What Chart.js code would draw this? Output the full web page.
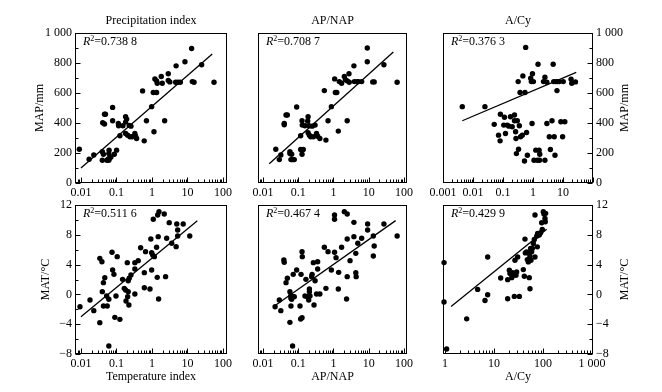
<!DOCTYPE html>
<html><head><meta charset="utf-8">
<script src="https://cdn.jsdelivr.net/npm/chart.js@4/dist/chart.umd.min.js"></script>
<style>
html,body{margin:0;padding:0;background:#fff;}
#wrap{position:relative;width:662px;height:392px;overflow:hidden;background:#fff;}
#wrap canvas{position:absolute;left:0;top:0;}
</style></head><body><div id="wrap"></div>
<script>
// ---------- data ----------
const precipIndex = [0.009,0.017,0.023,0.041,0.046,0.049,0.046,0.040,0.043,0.040,0.054,0.059,0.061,0.065,0.070,0.061,0.062,0.078,0.078,0.087,0.101,0.113,0.115,0.125,0.152,0.181,0.181,0.194,0.181,0.207,0.229,0.240,0.256,0.276,0.33,0.346,0.37,0.545,0.605,0.70,0.98,1.14,1.09,1.35,1.21,1.35,1.41,1.83,1.95,2.28,2.88,2.88,3.19,4.79,4.66,5.40,6.30,8.5,13.1,13.7,15.3,25.1,56];
const precipMAP = [225,158,187,402,458,458,393,208,192,152,152,161,152,167,174,196,219,504,415,192,219,397,382,315,382,406,442,426,330,319,384,308,379,308,330,312,297,614,281,415,509,342,603,603,694,681,665,710,665,415,728,683,674,781,672,672,672,808,897,676,672,788,672];
const precipLineX = [0.01, 50];
const precipLineY = [100, 860];

const apnapTop = [0.023,0.032,0.029,0.040,0.040,0.045,0.049,0.058,0.058,0.062,0.066,0.072,0.077,0.065,0.090,0.117,0.117,0.128,0.139,0.130,0.128,0.155,0.190,0.185,0.202,0.190,0.207,0.226,0.247,0.268,0.30,0.33,0.355,0.41,0.55,0.61,0.70,0.87,1.08,1.13,1.24,1.37,1.46,1.70,2.03,2.18,2.45,2.45,2.75,2.8,3.8,3.9,4.6,5.1,6.3,9.1,9.1,13.0,14.3,27,64];
const apnapMAP = [225,187,156,397,388,453,453,208,196,156,156,156,156,192,507,315,223,192,223,386,415,382,442,413,382,335,319,308,379,308,386,330,312,297,616,286,415,509,694,603,603,346,676,665,710,688,681,415,728,672,781,676,676,676,676,900,808,674,674,788,672];
const apnapTopLineX = [0.015, 50];
const apnapTopLineY = [129, 873];

const acyTop = [0.0044,0.025,0.051,0.071,0.082,0.080,0.112,0.106,0.121,0.138,0.157,0.178,0.203,0.242,0.242,0.263,0.27,0.30,0.28,0.33,0.32,0.35,0.37,0.385,0.44,0.46,0.54,0.57,0.61,0.65,0.52,0.84,0.88,0.96,0.93,1.03,1.08,1.24,1.40,1.47,1.60,1.68,1.65,2.24,2.5,2.5,2.9,2.9,3.5,3.8,4.3,4.7,4.9,5.1,5.4,5.8,6.3,6.6,7.5,8.5,9.7,10.2,11.5,18.6,19.6,26];
const acyMAP = [509,509,391,319,458,281,438,386,330,386,379,442,375,453,415,342,297,415,196,225,676,382,603,308,319,714,603,904,337,185,147,699,676,728,397,676,152,219,152,792,219,192,152,676,705,152,672,397,308,223,415,792,676,308,185,676,616,676,676,408,308,676,408,692,665,674];
const acyTopLineX = [0.0044, 27.6];
const acyTopLineY = [415, 737];

const tempIndex = [0.0094,0.018,0.023,0.034,0.034,0.039,0.040,0.043,0.047,0.043,0.053,0.055,0.061,0.061,0.075,0.078,0.085,0.090,0.097,0.105,0.125,0.149,0.166,0.181,0.186,0.202,0.207,0.215,0.215,0.224,0.229,0.256,0.33,0.33,0.33,0.41,0.48,0.61,0.61,0.66,0.88,0.93,0.98,0.98,1.05,1.09,1.17,1.35,1.41,1.50,1.45,1.58,1.54,2.22,2.42,2.60,3.07,3.6,4.8,5.0,5.3,5.3,7.6,11.6];
const tempMAT = [-1.65,-0.75,-2.18,-3.79,4.84,4.39,0.37,1.58,2.25,-1.56,-0.21,-1.56,-0.66,-6.93,5.65,3.28,2.69,-3.08,-0.21,5.07,-3.35,2.02,0.81,0.59,-0.88,4.26,-0.30,1.84,0.37,-1.42,2.16,2.60,4.26,0.05,3.41,4.53,6.27,0.90,2.92,5.74,0.72,7.44,3.28,5.60,5.29,10.08,5.07,6.32,2.29,7.75,10.66,11.11,-0.62,10.79,2.38,7.53,9.63,6.86,6.41,9.45,8.64,7.84,9.45,7.84];
const tempLineX = [0.01, 19];
const tempLineY = [-3.0, 9.9];

const apnapBot = [0.022,0.029,0.032,0.039,0.040,0.045,0.049,0.058,0.061,0.062,0.062,0.058,0.069,0.065,0.072,0.077,0.072,0.090,0.112,0.117,0.128,0.120,0.128,0.130,0.155,0.165,0.180,0.198,0.207,0.207,0.215,0.24,0.247,0.268,0.28,0.30,0.33,0.355,0.355,0.41,0.55,0.61,0.70,0.87,1.07,1.07,1.07,1.18,1.40,1.37,1.70,2.03,2.45,2.45,2.45,2.35,2.95,3.8,3.8,4.3,4.3,4.4,4.9,6.3,9.3,9.3,13.5,14.3,13.5,27,64];
const apnapMAT = [-1.65,-0.75,-2.18,4.62,4.30,1.58,2.16,0.37,-0.21,-1.56,-0.53,-3.75,-6.93,-0.66,-0.30,-0.30,2.69,3.28,-1.56,-3.30,-3.12,2.69,5.74,5.07,-0.21,2.02,-0.30,-0.75,0.72,0.37,-0.21,2.38,2.69,4.26,-1.42,1.84,0.05,4.39,3.41,0.05,6.32,0.81,5.74,3.28,10.66,10.08,5.65,4.93,2.96,0.72,6.32,11.11,10.79,7.44,2.38,-0.62,4.53,9.67,7.75,5.51,2.92,2.38,6.86,7.53,9.45,8.64,7.84,6.50,5.16,9.45,7.84];
const apnapBotLineX = [0.0197, 58];
const apnapBotLineY = [-1.65, 9.9];

const acyBot = [0.955,0.955,1.08,2.77,4.64,6.55,7.43,7.43,13.7,19.0,19.0,20.6,21.2,23.0,24.0,24.8,26.0,26.8,28.1,29.0,30.4,32.9,39.7,41.6,42.9,43.6,46.4,47.9,50.2,50.2,52.6,54.3,54.3,56.0,56.9,58.7,60.6,63.5,66.5,68.7,68.7,74.3,76.6,77.8,84.1,89.5,96.8,94.0,101.6,104.8,109.9,111.6,113.3];
const acyMAT = [4.27,-1.03,-7.33,-3.28,0.67,-0.81,-0.04,5.03,2.20,1.98,-0.58,3.24,2.79,2.25,2.92,2.56,-0.27,4.58,2.56,3.01,5.03,-0.27,3.33,2.43,7.42,5.57,5.71,4.67,4.36,5.57,2.25,5.12,0.76,6.16,4.58,5.71,6.16,6.83,7.37,5.03,10.65,7.82,6.38,8.18,7.96,8.27,8.72,9.62,11.10,10.79,10.20,9.75,10.88];
const acyBotLineX = [1.33, 119];
const acyBotLineY = [-1.62, 8.76];

// tick values / labels
const decTicks = [0.01, 0.1, 1, 10, 100];
const decLabels = ['0.01', '0.1', '1', '10', '100'];
const acyTopTicks = [0.001, 0.01, 0.1, 1, 10];
const acyTopLabels = ['0.001', '0.01', '0.1', '1', '10'];
const acyBotTicks = [1, 10, 100, 1000];
const acyBotLabels = ['1', '10', '100', '1 000'];
const mapTicks = [0, 200, 400, 600, 800, 1000];
const mapLabels = ['0', '200', '400', '600', '800', '1 000'];
const matTicks = [-8, -4, 0, 4, 8, 12];
const matLabels = ['\u22128', '\u22124', '0', '4', '8', '12'];

const r2Values = ['0.738 8', '0.708 7', '0.376 3', '0.511 6', '0.467 4', '0.429 9'];
const topTitles = ['Precipitation index', 'AP/NAP', 'A/Cy'];
const bottomTitles = ['Temperature index', 'AP/NAP', 'A/Cy'];

// ---------- drawing ----------
const FONT = "'Liberation Serif', 'Times New Roman', serif";
Chart.defaults.font.family = FONT;
Chart.defaults.font.size = 12;
Chart.defaults.color = '#000';

const W = 662, H = 392;
const Y_AXIS_W = 36, X_AXIS_H = 18;

const deco = {
  id: 'panelDeco',
  afterDraw(chart, args, o) {
    const ctx = chart.ctx, a = chart.chartArea, xs = chart.scales.x, ys = chart.scales.y;
    const L = Math.round(a.left) + 0.5, R = Math.round(a.right) - 0.5;
    const T = Math.round(a.top) + 0.5, B = Math.round(a.bottom) - 0.5;
    ctx.save();
    ctx.strokeStyle = '#000';
    ctx.lineWidth = 1;
    ctx.strokeRect(L, T, R - L, B - T);
    ctx.beginPath();
    const e0 = Math.floor(Math.log10(xs.min)), e1 = Math.ceil(Math.log10(xs.max));
    for (let e = e0; e <= e1; e++) {
      for (let k = 1; k <= 9; k++) {
        const v = k * Math.pow(10, e);
        if (v < xs.min * 0.999 || v > xs.max * 1.001) continue;
        const px = Math.round(xs.getPixelForValue(v)) + 0.5;
        const len = k === 1 ? 5 : 3;
        ctx.moveTo(px, B); ctx.lineTo(px, B - len);
      }
    }
    if (o.ySide) {
      const n = Math.round((ys.max - ys.min) / o.yMinor);
      for (let i = 0; i <= n; i++) {
        const v = ys.min + i * o.yMinor;
        const py = Math.round(ys.getPixelForValue(v)) + 0.5;
        const len = (i % 2 === 0) ? 5 : 3;
        if (o.ySide === 'left') { ctx.moveTo(L, py); ctx.lineTo(L + len, py); }
        else { ctx.moveTo(R, py); ctx.lineTo(R - len, py); }
      }
    }
    ctx.stroke();

    ctx.fillStyle = '#000';
    ctx.textBaseline = 'middle';
    const cx = (a.left + a.right) / 2, cy = (a.top + a.bottom) / 2;
    ctx.font = '12px ' + FONT;
    if (o.title) { ctx.textAlign = 'center'; ctx.fillText(o.title, cx, a.top - 12); }
    if (o.xTitle) { ctx.textAlign = 'center'; ctx.fillText(o.xTitle, cx, a.bottom + 23); }
    if (o.yTitle) {
      ctx.save();
      ctx.translate(o.ySide === 'left' ? a.left - o.yTitleOff : a.right + o.yTitleOff, cy);
      ctx.rotate(-Math.PI / 2);
      ctx.textAlign = 'center';
      ctx.fillText(o.yTitle, 0, 0);
      ctx.restore();
    }
    let x = a.left + 8; const y = a.top + 9;
    ctx.textAlign = 'left';
    ctx.font = 'italic 12px ' + FONT;
    ctx.fillText('R', x, y); x += ctx.measureText('R').width;
    ctx.font = '8px ' + FONT;
    ctx.fillText('2', x, y - 3); x += ctx.measureText('2').width;
    ctx.font = '12px ' + FONT;
    ctx.fillText('=' + o.r2, x, y);
    ctx.restore();
  }
};

function pts(xa, ya) { return xa.map((v, i) => ({ x: v, y: ya[i] })); }

function makePanel(p) {
  const cv = document.createElement('canvas');
  cv.width = W; cv.height = H;
  cv.style.width = W + 'px'; cv.style.height = H + 'px';
  document.getElementById('wrap').appendChild(cv);
  const yL = p.ySide === 'left' ? Y_AXIS_W : 0;
  const yR = p.ySide === 'right' ? Y_AXIS_W : 0;
  new Chart(cv, {
    type: 'scatter',
    data: {
      datasets: [
        { data: pts(p.xv, p.yv), pointRadius: 2.7, pointHoverRadius: 2.7, backgroundColor: '#000', borderWidth: 0, clip: false },
        { data: pts(p.lx, p.ly), showLine: true, borderColor: '#000', borderWidth: 1.3, pointRadius: 0, fill: false, clip: false }
      ]
    },
    options: {
      responsive: false, animation: false, devicePixelRatio: 1,
      layout: { padding: { left: p.box[0] - yL, top: p.box[1], right: W - p.box[2] - yR, bottom: H - p.box[3] - X_AXIS_H } },
      plugins: {
        legend: { display: false }, tooltip: { enabled: false }, title: { display: false },
        panelDeco: { title: p.title, xTitle: p.xTitle, yTitle: p.yTitle, yTitleOff: p.yTitleOff, ySide: p.ySide, yMinor: p.yMinor, r2: p.r2 }
      },
      scales: {
        x: {
          type: 'logarithmic', position: 'bottom', min: p.xmin, max: p.xmax,
          afterBuildTicks: s => { s.ticks = p.xt.map(v => ({ value: v })); },
          afterFit: s => { s.height = X_AXIS_H; },
          ticks: { callback: (v, i) => p.xl[i], padding: 3, autoSkip: false, maxRotation: 0, minRotation: 0, font: { size: 12, family: FONT }, color: '#000' },
          grid: { display: false, drawTicks: false }, border: { display: false }
        },
        y: {
          type: 'linear', display: !!p.ySide, position: p.ySide || 'left', min: p.ymin, max: p.ymax,
          afterBuildTicks: s => { s.ticks = p.yt.map(v => ({ value: v })); },
          afterFit: s => { s.width = p.ySide ? Y_AXIS_W : 0; },
          ticks: { callback: (v, i) => p.yl[i], padding: 3, autoSkip: false, font: { size: 12, family: FONT }, color: '#000' },
          grid: { display: false, drawTicks: false }, border: { display: false }
        }
      }
    },
    plugins: [deco]
  });
}

const topBox = [33, 183], botBox = [205, 354];
const colX = [[75, 227], [258, 407], [443, 593]];

makePanel({ box: [colX[0][0], topBox[0], colX[0][1], topBox[1]], xv: precipIndex, yv: precipMAP, lx: precipLineX, ly: precipLineY,
  xmin: 0.0068, xmax: 130, xt: decTicks, xl: decLabels, ymin: 0, ymax: 1000, yt: mapTicks, yl: mapLabels, yMinor: 100,
  ySide: 'left', yTitle: 'MAP/mm', yTitleOff: 35, title: topTitles[0], r2: r2Values[0] });
makePanel({ box: [colX[1][0], topBox[0], colX[1][1], topBox[1]], xv: apnapTop, yv: apnapMAP, lx: apnapTopLineX, ly: apnapTopLineY,
  xmin: 0.0072, xmax: 122, xt: decTicks, xl: decLabels, ymin: 0, ymax: 1000, yt: mapTicks, yl: mapLabels, yMinor: 100,
  ySide: null, title: topTitles[1], r2: r2Values[1] });
makePanel({ box: [colX[2][0], topBox[0], colX[2][1], topBox[1]], xv: acyTop, yv: acyMAP, lx: acyTopLineX, ly: acyTopLineY,
  xmin: 0.001, xmax: 100, xt: acyTopTicks, xl: acyTopLabels, ymin: 0, ymax: 1000, yt: mapTicks, yl: mapLabels, yMinor: 100,
  ySide: 'right', yTitle: 'MAP/mm', yTitleOff: 32, title: topTitles[2], r2: r2Values[2] });
makePanel({ box: [colX[0][0], botBox[0], colX[0][1], botBox[1]], xv: tempIndex, yv: tempMAT, lx: tempLineX, ly: tempLineY,
  xmin: 0.0068, xmax: 130, xt: decTicks, xl: decLabels, ymin: -8, ymax: 12, yt: matTicks, yl: matLabels, yMinor: 2,
  ySide: 'left', yTitle: 'MAT/\u00B0C', yTitleOff: 29, xTitle: bottomTitles[0], r2: r2Values[3] });
makePanel({ box: [colX[1][0], botBox[0], colX[1][1], botBox[1]], xv: apnapBot, yv: apnapMAT, lx: apnapBotLineX, ly: apnapBotLineY,
  xmin: 0.0072, xmax: 122, xt: decTicks, xl: decLabels, ymin: -8, ymax: 12, yt: matTicks, yl: matLabels, yMinor: 2,
  ySide: null, xTitle: bottomTitles[1], r2: r2Values[4] });
makePanel({ box: [colX[2][0], botBox[0], colX[2][1], botBox[1]], xv: acyBot, yv: acyMAT, lx: acyBotLineX, ly: acyBotLineY,
  xmin: 0.91, xmax: 1050, xt: acyBotTicks, xl: acyBotLabels, ymin: -8, ymax: 12, yt: matTicks, yl: matLabels, yMinor: 2,
  ySide: 'right', yTitle: 'MAT/\u00B0C', yTitleOff: 32, xTitle: bottomTitles[2], r2: r2Values[5] });
</script>
</body></html>
